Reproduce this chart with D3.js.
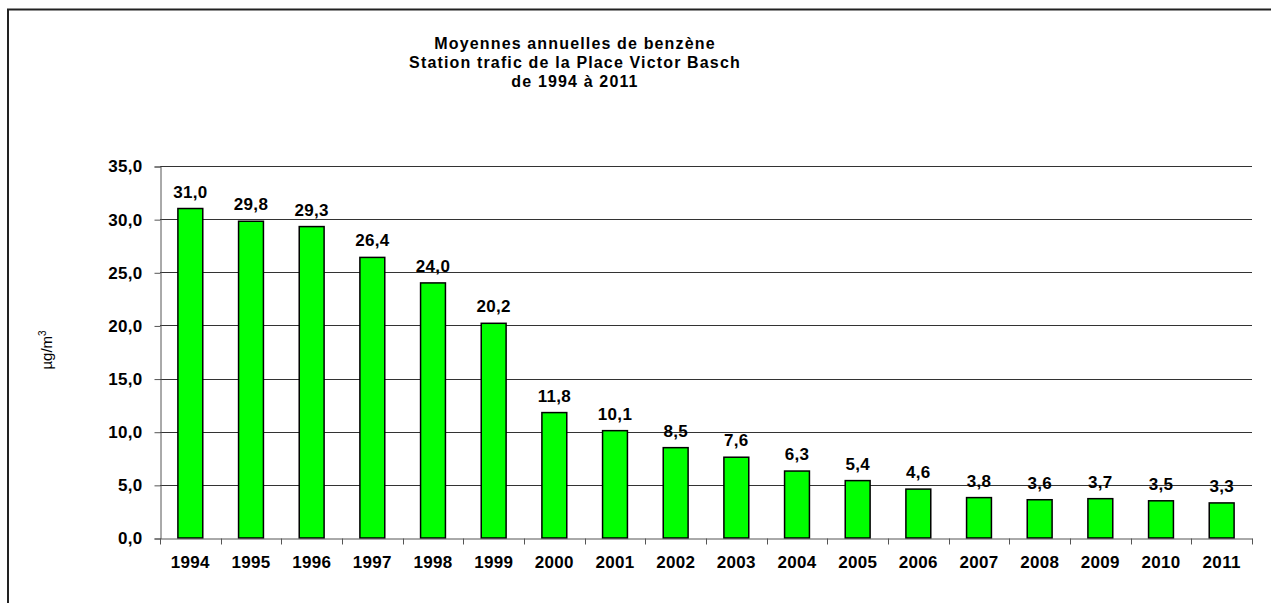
<!DOCTYPE html>
<html lang="fr">
    <head>
        <meta charset="utf-8">
        <title>Moyennes annuelles de benzène</title>
        <script src="https://cdn.jsdelivr.net/npm/d3@7"></script>
        <style>
            body { margin: 0; background: #fff; }
            svg { display: block; font-family: "Liberation Sans", Arial, sans-serif; }
        </style>
    </head>
    <body>
        <script>
            // Data
            var years = ["1994", "1995", "1996", "1997", "1998", "1999", "2000", "2001", "2002",
                         "2003", "2004", "2005", "2006", "2007", "2008", "2009", "2010", "2011"];
            var benzene = [31.0, 29.8, 29.3, 26.4, 24.0, 20.2, 11.8, 10.1, 8.5,
                           7.6, 6.3, 5.4, 4.6, 3.8, 3.6, 3.7, 3.5, 3.3];
            var yTicks = [0, 5, 10, 15, 20, 25, 30, 35];
            var titleLines = ["Moyennes annuelles de benzène",
                              "Station trafic de la Place Victor Basch",
                              "de 1994 à 2011"];

            // Size
            var w = 1271;
            var h = 603;
            var plotLeft = 160, plotRight = 1252, plotTop = 166, plotBottom = 538;

            var fmt = function(v) { return d3.format(".1f")(v).replace(".", ","); };

            // Scales
            var xScale = d3.scaleBand()
                .domain(years)
                .range([plotLeft, plotRight])
                .paddingInner(0.59)
                .paddingOuter(0.295);
            var band = d3.scaleBand().domain(years).range([plotLeft, plotRight]);
            var yScale = d3.scaleLinear()
                .domain([0, 35])
                .range([plotBottom, plotTop]);

            var svg = d3.select("body")
                .append("svg")
                .attr("width", w)
                .attr("height", h);

            // Frame
            svg.append("path")
                .attr("d", "M8," + h + "V9.5H" + w)
                .attr("fill", "none")
                .attr("stroke", "#222")
                .attr("stroke-width", 2);

            // Gridlines
            svg.append("g")
                .selectAll("line")
                .data(yTicks.slice(1))
                .enter()
                .append("line")
                .attr("x1", plotLeft)
                .attr("x2", plotRight)
                .attr("y1", function(d) { return Math.round(yScale(d)) + 0.5; })
                .attr("y2", function(d) { return Math.round(yScale(d)) + 0.5; })
                .attr("stroke", "#333")
                .attr("stroke-width", 1);

            // Y axis
            var yAxis = d3.axisLeft(yScale)
                .tickValues(yTicks)
                .tickSize(6)
                .tickPadding(12)
                .tickFormat(fmt);
            var gy = svg.append("g")
                .attr("transform", "translate(" + (plotLeft + 0.5) + ",0.5)")
                .call(yAxis);
            gy.select(".domain").attr("stroke", "#555");
            gy.selectAll(".tick line").attr("stroke", "#555");
            gy.selectAll("text")
                .attr("font-size", 17)
                .attr("font-weight", "bold")
                .attr("letter-spacing", 0.3)
                .attr("fill", "#000");

            // Bars
            svg.append("g")
                .selectAll("rect")
                .data(benzene)
                .enter()
                .append("rect")
                .attr("x", function(d, i) { return xScale(years[i]); })
                .attr("y", function(d) { return yScale(d); })
                .attr("width", xScale.bandwidth())
                .attr("height", function(d) { return yScale(0) - yScale(d); })
                .attr("fill", "#00ff00")
                .attr("stroke", "#000")
                .attr("stroke-width", 1.5);

            // X axis
            var xAxis = d3.axisBottom(band)
                .tickSize(0)
                .tickPadding(17)
                .tickFormat(function(d) { return d; });
            var gx = svg.append("g")
                .attr("transform", "translate(0," + (plotBottom + 0.5) + ")")
                .call(xAxis);
            gx.select(".domain").attr("stroke", "#555");
            gx.selectAll("text")
                .attr("font-size", 17)
                .attr("font-weight", "bold")
                .attr("letter-spacing", 0.3)
                .attr("fill", "#000");
            // category boundary ticks
            gx.append("g")
                .selectAll("line")
                .data(years.concat(["end"]))
                .enter()
                .append("line")
                .attr("x1", function(d, i) { return Math.round(plotLeft + i * band.step()) + 0.5; })
                .attr("x2", function(d, i) { return Math.round(plotLeft + i * band.step()) + 0.5; })
                .attr("y1", 0)
                .attr("y2", 6)
                .attr("stroke", "#555");

            // Value labels
            svg.append("g")
                .selectAll("text")
                .data(benzene)
                .enter()
                .append("text")
                .attr("x", function(d, i) { return xScale(years[i]) + xScale.bandwidth() / 2; })
                .attr("y", function(d) { return yScale(d) - 11; })
                .attr("text-anchor", "middle")
                .attr("font-size", 17)
                .attr("font-weight", "bold")
                .attr("letter-spacing", 0.3)
                .text(fmt);

            // Title
            svg.append("g")
                .selectAll("text")
                .data(titleLines)
                .enter()
                .append("text")
                .attr("x", 575)
                .attr("y", function(d, i) { return 49 + i * 19; })
                .attr("text-anchor", "middle")
                .attr("font-size", 16)
                .attr("font-weight", "bold")
                .attr("letter-spacing", 1.15)
                .text(function(d) { return d; });

            // Y label
            var yl = svg.append("text")
                .attr("transform", "translate(52,350) rotate(-90)")
                .attr("text-anchor", "middle")
                .attr("font-size", 15);
            yl.append("tspan").text("µg/m");
            yl.append("tspan").attr("font-size", 10).attr("dy", -6).text("3");
        </script>
    </body>
</html>
